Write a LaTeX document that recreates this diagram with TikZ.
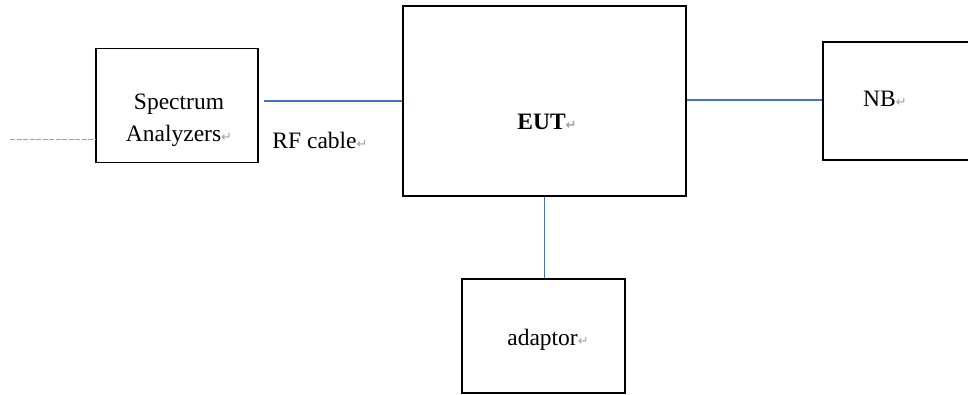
\documentclass[tikz,border=0pt]{standalone}
\usepackage{fontspec}
\setmainfont{Liberation Serif}
\newfontfamily\djfont{DejaVu Sans}
\usetikzlibrary{calc}
\definecolor{cableblue}{HTML}{4472C4}
\definecolor{markgray}{HTML}{A0A0A0}
\newcommand{\retmark}{{\color{markgray}\fontsize{13}{13}\djfont ↵}}
\tikzset{
  box/.style={draw=black, line width=1.7pt, inner sep=0pt},
  txt/.style={inner sep=0pt, font=\fontsize{23.5}{32}\selectfont, align=center},
  cable/.style={draw=cableblue, line width=1.4pt},
  probe/.style={draw=markgray, line width=0.9pt, dash pattern=on 5pt off 1.5pt}
}
\begin{document}
\begin{tikzpicture}[x=1pt,y=-1pt]
\useasboundingbox (0,0) rectangle (968,395);
% boxes
\node[box, minimum width=162, minimum height=114] (sa) at (177,105.5) {};
\node[box, minimum width=283, minimum height=190] (eut) at (544.5,101) {};
\node[box, minimum width=170, minimum height=118] (nb) at (908,101) {};
\node[box, minimum width=163, minimum height=114] (ad) at (543.5,336) {};
% texts
\node[txt] (satext) at (179,120) {Spectrum\\Analyzers\retmark};
\node[txt, font=\fontsize{23.5}{27}\bfseries] (euttext) at (547,122) {EUT\retmark};
\node[txt] (nbtext) at (885,99) {NB\retmark};
\node[txt] (adtext) at (548,340) {adaptor\retmark};
\node[txt] (rftext) at (320,140) {RF cable\retmark};
% connectors
\coordinate (probeend) at (10,139);
\draw[probe] (probeend) -- (probeend -| sa.west);
\draw[cable] ($(sa.east |- eut.west)+(5,0)$) -- (eut.west);
\draw[cable] ($(eut.east)+(0,-1)$) -- ($(eut.east -| nb.west)+(0,-1)$);
\draw[cable] (eut.south) -- (eut.south |- ad.north);
\end{tikzpicture}
\end{document}
